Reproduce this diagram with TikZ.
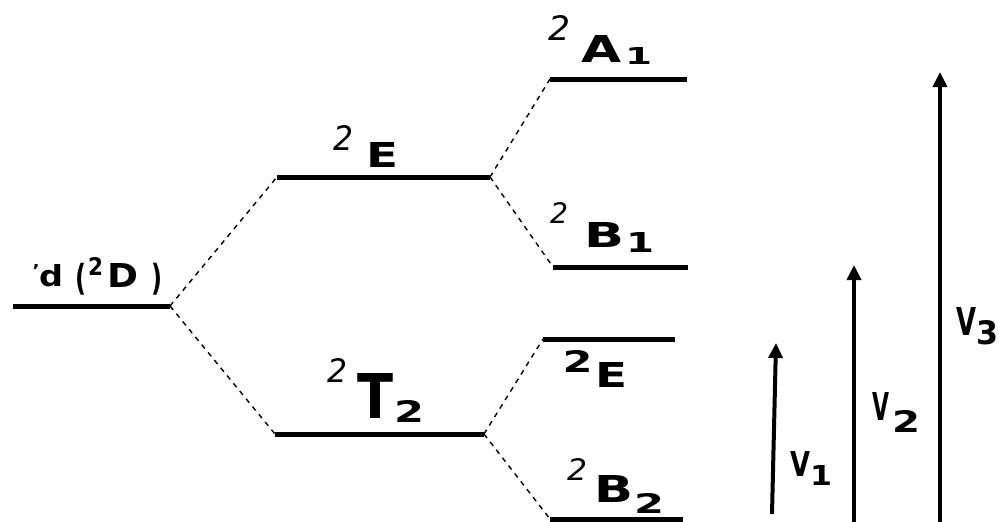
\documentclass[tikz,border=0pt]{standalone}
\usepackage{fontspec}
\setmainfont{DejaVu Sans}
\usepackage{graphicx}
\usetikzlibrary{arrows.meta}
\newcommand\gl[3]{\resizebox{#1pt}{#2pt}{#3}}
\newcommand\glt[3]{\resizebox*{#1pt}{#2pt}{#3}}
\tikzset{
  lbl/.style={inner sep=0pt, outer sep=0pt, font=\bfseries},
  suplbl/.style={inner sep=0pt, outer sep=0pt, font=\normalfont\itshape},
  level/.style={line width=5pt},
  conn/.style={line width=1.4pt, dash pattern=on 5pt off 5pt},
  trans/.style={line width=4pt, -{Triangle[length=15pt,width=14pt]}}
}
\begin{document}
\begin{tikzpicture}[x=1pt,y=-1pt]
\useasboundingbox (0,0) rectangle (999,522);
% level end points
\coordinate (dL) at (13,306);   \coordinate (dR) at (170,306);
\coordinate (EmL) at (277,177); \coordinate (EmR) at (490,177);
\coordinate (TL) at (275,434);  \coordinate (TR) at (484,434);
\coordinate (AL) at (550,79);   \coordinate (AR) at (687,79);
\coordinate (B1L) at (553,267); \coordinate (B1R) at (688,267);
\coordinate (ErL) at (543,339); \coordinate (ErR) at (675,339);
\coordinate (B2L) at (550,519); \coordinate (B2R) at (683,519);
% levels
\draw[level] (dL) -- (dR);
\draw[level] (EmL) -- (EmR);
\draw[level] (TL) -- (TR);
\draw[level] (AL) -- (AR);
\draw[level] (B1L) -- (B1R);
\draw[level] (ErL) -- (ErR);
\draw[level] (B2L) -- (B2R);
% dashed correlations
\draw[conn] (dR) -- (EmL);
\draw[conn] (dR) -- (TL);
\draw[conn] (EmR) -- (AL);
\draw[conn] (EmR) -- (B1L);
\draw[conn] (TR) -- (ErL);
\draw[conn] (TR) -- (B2L);
% d label
\node[lbl] (dap) at (36,270) {\gl{7}{12}{'}};
\node[lbl] (dd) at (51,276) {\gl{24}{22}{d}};
\node[lbl] (dpo) at (81,279) {\glt{11}{32}{(}};
\node[lbl] (dsup) at (95.5,266) {\gl{15}{18}{2}};
\node[lbl] (dD) at (122.5,275) {\gl{31}{24}{D}};
\node[lbl] (dpc) at (157,279) {\glt{11}{32}{)}};
% A1
\node[suplbl] (As) at (559,27.5) {\gl{22}{25}{2}};
\node[lbl] (Am) at (601,48.5) {\gl{40}{27}{A}};
\node[lbl] (Ab) at (638.5,55.5) {\gl{27}{17}{1}};
% middle E
\node[suplbl] (Ems) at (343,137.5) {\gl{20}{25}{2}};
\node[lbl] (Emm) at (383,154.5) {\gl{32}{25}{E}};
% B1
\node[suplbl] (B1s) at (559,212.5) {\gl{18}{21}{2}};
\node[lbl] (B1m) at (604,234.5) {\gl{40}{25}{B}};
\node[lbl] (B1b) at (640,242) {\gl{28}{20}{1}};
% T2
\node[suplbl] (Ts) at (337,370) {\gl{20}{24}{2}};
\node[lbl] (Tm) at (375,395.5) {\gl{36}{45}{T}};
\node[lbl] (Tb) at (409,411) {\gl{30}{22}{2}};
% right E
\node[lbl] (Ers) at (577.5,361) {\gl{30}{22}{2}};
\node[lbl] (Erm) at (612,374.5) {\gl{32}{25}{E}};
% B2
\node[suplbl] (B2s) at (577,469) {\gl{20}{22}{2}};
\node[lbl] (B2m) at (613.5,488.5) {\gl{39}{27}{B}};
\node[lbl] (B2b) at (649,503) {\gl{30}{20}{2}};
% transitions
\coordinate (v1b) at (772,514); \coordinate (v1t) at (776,343);
\coordinate (v2b) at (854,522); \coordinate (v2t) at (854,265);
\coordinate (v3b) at (940,522); \coordinate (v3t) at (940,72);
\draw[trans] (v1b) -- (v1t);
\draw[trans] (v2b) -- (v2t);
\draw[trans] (v3b) -- (v3t);
\node[lbl] (v1m) at (800,464) {\gl{20}{25}{V}};
\node[lbl] (v1s) at (821,475) {\gl{22}{20}{1}};
\node[lbl] (v2m) at (880.5,406) {\gl{17}{28}{V}};
\node[lbl] (v2s) at (906,421) {\gl{28}{22}{2}};
\node[lbl] (v3m) at (966,321) {\gl{20}{28}{V}};
\node[lbl] (v3s) at (987.5,333) {\gl{22}{24}{3}};
\end{tikzpicture}
\end{document}
